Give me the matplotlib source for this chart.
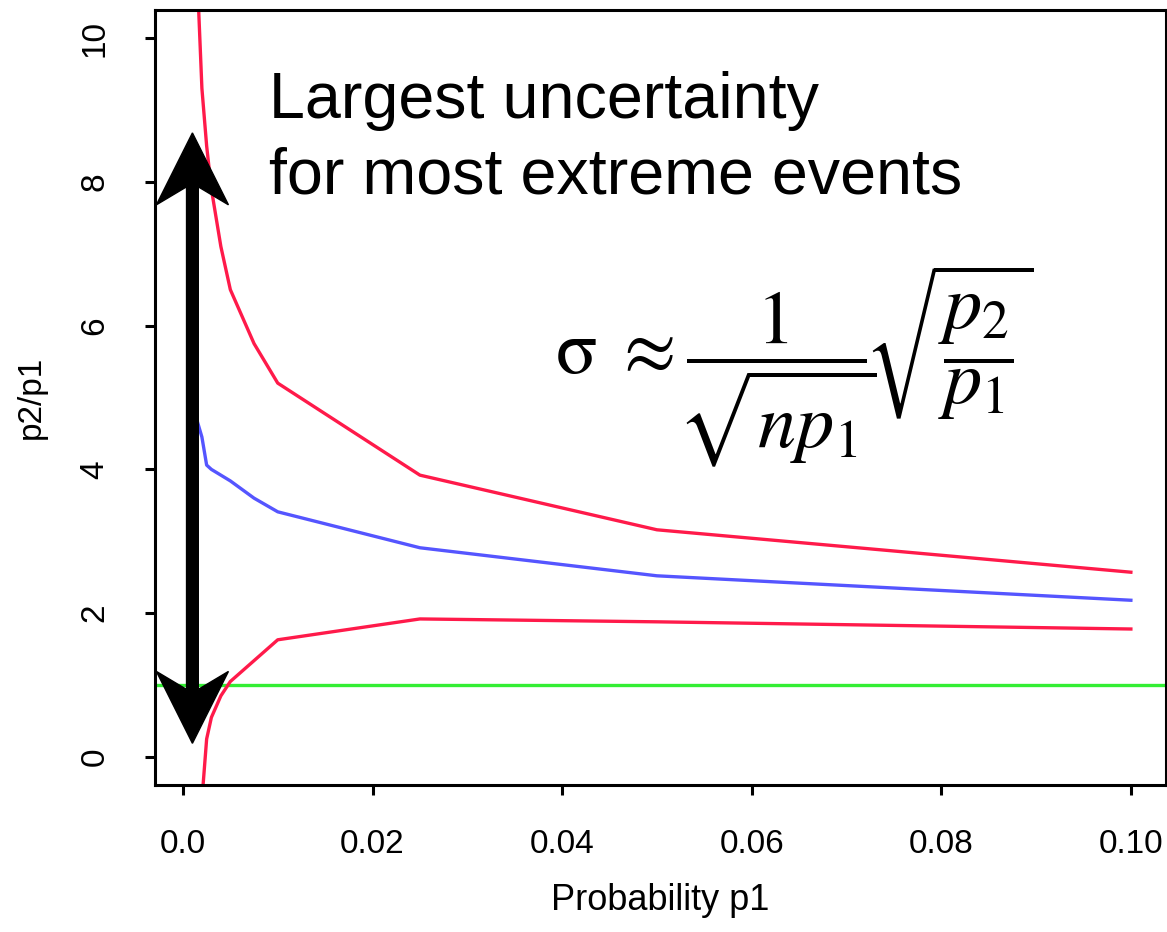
import numpy as np
import matplotlib.pyplot as plt

plt.rcParams['font.family'] = ['Liberation Sans', 'DejaVu Sans']
plt.rcParams['mathtext.fontset'] = 'stix'

# probabilities p1 and ratio p2/p1 (estimate, upper and lower bounds)
p1 = [0.001, 0.002, 0.0025, 0.003, 0.004, 0.005, 0.0075, 0.01, 0.025, 0.05, 0.1]
ratio_mid = [4.9, 4.45, 4.06, 4.0, 3.92, 3.84, 3.6, 3.41, 2.91, 2.52, 2.18]
ratio_hi = [12.5, 9.3, 8.5, 7.9, 7.1, 6.5, 5.75, 5.2, 3.92, 3.16, 2.57]
ratio_lo = [-2.5, -0.6, 0.25, 0.55, 0.85, 1.05, 1.34, 1.63, 1.92, 1.88, 1.78]

xticks = [0.0, 0.02, 0.04, 0.06, 0.08, 0.10]
xticklabels = ['0.0', '0.02', '0.04', '0.06', '0.08', '0.10']
yticks = [0, 2, 4, 6, 8, 10]

red = '#FF1A4A'
blue = '#5555FF'
green = '#33EE33'

fig = plt.figure(figsize=(11.67, 9.32), dpi=100)
ax = fig.add_axes([0.1328, 0.1577, 0.8663, 0.8316])

ax.axhline(1, color=green, lw=2.4)
ax.plot(p1, ratio_hi, color=red, lw=2.4)
ax.plot(p1, ratio_lo, color=red, lw=2.4)
ax.plot(p1, ratio_mid, color=blue, lw=2.4)

ax.set_xlim(-0.00295, 0.1037)
ax.set_ylim(-0.39, 10.39)

ax.set_xticks(xticks)
ax.set_xticklabels(xticklabels, fontsize=24)
ax.set_yticks(yticks)
ax.set_yticklabels([str(v) for v in yticks], fontsize=24, rotation=90, va='center')
ax.tick_params(length=7, width=2.2, pad=25)
for s in ax.spines.values():
    s.set_linewidth(2.2)

ax.set_xlabel('Probability p1', fontsize=26, labelpad=16)
ax.set_ylabel('p2/p1', fontsize=24)
ax.yaxis.set_label_coords(-0.107, 0.5)

# double headed arrow, drawn as a filled polygon in data units
ax_x = 0.001
y_top, y_bot = 8.68, 0.19
hw, sw = 0.0038, 0.00062
hl, nl = 1.0, 0.75
arrow_x = [ax_x, ax_x + hw, ax_x + sw, ax_x + sw, ax_x + hw, ax_x,
           ax_x - hw, ax_x - sw, ax_x - sw, ax_x - hw]
arrow_y = [y_top, y_top - hl, y_top - nl, y_bot + nl, y_bot + hl, y_bot,
           y_bot + hl, y_bot + nl, y_top - nl, y_top - hl]
ax.fill(arrow_x, arrow_y, color='black', zorder=5)

ax.text(0.0091, 8.89, 'Largest uncertainty', fontsize=46.5, va='baseline')
ax.text(0.0091, 7.84, 'for most extreme events', fontsize=46.5, va='baseline')

ax.text(0.0392, 5.44, r'$\mathrm{\sigma}\;\approx\dfrac{1}{\!\sqrt{np_1}\!}\!\sqrt{\dfrac{p_2}{p_1}}$',
        fontsize=55, va='center', ha='left')

fig.savefig('out.png', dpi=100)
